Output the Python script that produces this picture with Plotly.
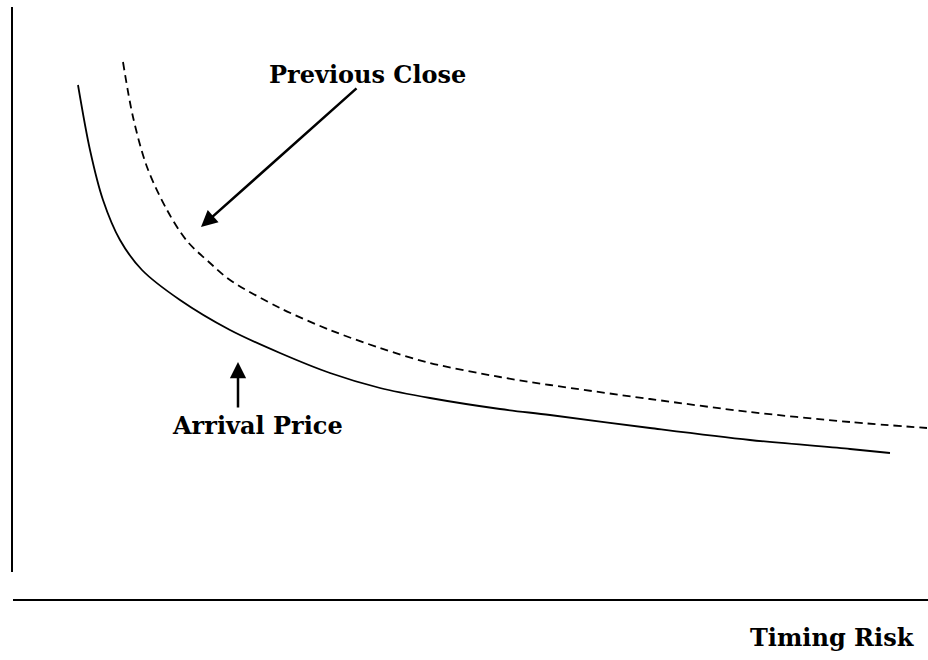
import plotly.graph_objects as go

# Schematic data: timing risk (x) vs. cost (y), arbitrary units
arrival_risk = [78, 90, 103, 120, 142, 180, 230, 280, 330, 380, 430, 500, 550, 650, 750, 850, 890]
arrival_cost = [515, 450, 400, 360, 330, 300, 270, 247, 227, 212, 202, 191, 185, 172, 160, 151, 147]

close_risk = [123, 133, 147, 167, 187, 210, 230, 280, 330, 380, 430, 500, 550, 650, 750, 850, 927]
close_cost = [538, 483, 433, 390, 359, 337, 320, 292, 270, 252, 237, 223, 215, 201, 188, 178, 172]

labels = ["Previous Close", "Arrival Price", "Timing Risk"]

FONT = "DejaVu Serif"

fig = go.Figure()
fig.add_trace(go.Scatter(x=arrival_risk, y=arrival_cost, mode="lines",
                         line=dict(color="black", width=1.8, shape="spline", smoothing=0.9),
                         hoverinfo="skip", showlegend=False))
fig.add_trace(go.Scatter(x=close_risk, y=close_cost, mode="lines",
                         line=dict(color="black", width=1.8, dash="8px,5px", shape="spline", smoothing=0.9),
                         hoverinfo="skip", showlegend=False))

# axes lines
fig.add_shape(type="line", x0=12, x1=12, y0=28, y1=593, line=dict(color="black", width=2))
fig.add_shape(type="line", x0=13, x1=928, y0=0, y1=0, line=dict(color="black", width=2))

# arrows
fig.add_annotation(x=201, y=373, ax=358, ay=513, xref="x", yref="y", axref="x", ayref="y",
                   showarrow=True, arrowhead=2, arrowsize=1.3, arrowwidth=2.5, arrowcolor="black",
                   standoff=0, text="")
fig.add_annotation(x=238, y=238, ax=238, ay=191, xref="x", yref="y", axref="x", ayref="y",
                   showarrow=True, arrowhead=2, arrowsize=1.3, arrowwidth=2.5, arrowcolor="black",
                   standoff=0, text="")

# labels
fig.add_annotation(x=367, y=526, text="<b>%s</b>" % labels[0], showarrow=False,
                   font=dict(family=FONT, size=24, color="black"), xanchor="center", yanchor="middle")
fig.add_annotation(x=257, y=175, text="<b>%s</b>" % labels[1], showarrow=False,
                   font=dict(family=FONT, size=24, color="black"), xanchor="center", yanchor="middle")
fig.add_annotation(x=832, y=-37, text="<b>%s</b>" % labels[2], showarrow=False,
                   font=dict(family=FONT, size=24, color="black"), xanchor="center", yanchor="middle")

fig.update_xaxes(range=[0, 928], visible=False, fixedrange=True)
fig.update_yaxes(range=[-60, 600], visible=False, fixedrange=True)
fig.update_layout(width=928, height=660, margin=dict(l=0, r=0, t=0, b=0),
                  paper_bgcolor="white", plot_bgcolor="white")

fig.write_html("out.html", config={"displayModeBar": False},
               post_script="document.body.style.margin='0';document.body.style.overflow='hidden';")
